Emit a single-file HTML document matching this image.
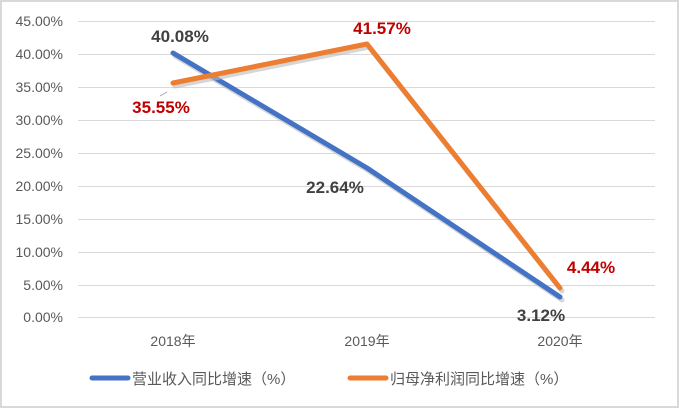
<!DOCTYPE html>
<html><head><meta charset="utf-8"><style>
body{margin:0;background:#fff}
svg{display:block}
text{font-family:"Liberation Sans","Noto Sans CJK SC",sans-serif}
</style></head><body>
<svg width="679" height="408" viewBox="0 0 679 408">
<rect x="1" y="1" width="677" height="406" fill="#fff" stroke="#d9d9d9" stroke-width="2"/>
<g stroke="#d9d9d9" stroke-width="1">
<line x1="78" x2="655" y1="21.5" y2="21.5"/><line x1="78" x2="655" y1="54.5" y2="54.5"/>
<line x1="78" x2="655" y1="87.5" y2="87.5"/><line x1="78" x2="655" y1="120.5" y2="120.5"/>
<line x1="78" x2="655" y1="153.5" y2="153.5"/><line x1="78" x2="655" y1="186.5" y2="186.5"/>
<line x1="78" x2="655" y1="219.5" y2="219.5"/><line x1="78" x2="655" y1="252.5" y2="252.5"/>
<line x1="78" x2="655" y1="285.5" y2="285.5"/><line x1="78" x2="655" y1="317.5" y2="317.5"/>
</g>
<g font-size="14" fill="#595959" text-anchor="end">
<text x="63" y="26">45.00%</text><text x="63" y="59">40.00%</text><text x="63" y="92">35.00%</text>
<text x="63" y="125">30.00%</text><text x="63" y="158">25.00%</text><text x="63" y="191">20.00%</text>
<text x="63" y="224">15.00%</text><text x="63" y="257">10.00%</text><text x="63" y="290">5.00%</text>
<text x="63" y="322">0.00%</text>
</g>
<g font-size="14" fill="#595959" text-anchor="middle">
<text x="173" y="346">2018年</text><text x="367" y="346">2019年</text><text x="560" y="346">2020年</text>
</g>
<line x1="167" y1="92" x2="160" y2="96" stroke="#a6a6a6" stroke-width="1"/>
<polyline points="175,56 369,171 562,300" fill="none" stroke="#bbb" stroke-width="5" stroke-linecap="round" opacity="0.6"/>
<polyline points="173,53 367,168 560,297" fill="none" stroke="#4472c4" stroke-width="5" stroke-linecap="round" stroke-linejoin="round"/>
<polyline points="175,86 369,47 562,291" fill="none" stroke="#bbb" stroke-width="5" stroke-linecap="round" opacity="0.6"/>
<polyline points="173,83 367,44 560,288" fill="none" stroke="#ed7d31" stroke-width="5" stroke-linecap="round" stroke-linejoin="round"/>
<g font-size="17" font-weight="bold">
<text x="180" y="42" fill="#404040" text-anchor="middle">40.08%</text>
<text x="161" y="113" fill="#c00000" text-anchor="middle">35.55%</text>
<text x="382" y="34" fill="#c00000" text-anchor="middle">41.57%</text>
<text x="335" y="193" fill="#404040" text-anchor="middle">22.64%</text>
<text x="591" y="273" fill="#c00000" text-anchor="middle">4.44%</text>
<text x="541" y="321" fill="#404040" text-anchor="middle">3.12%</text>
</g>
<line x1="92" y1="378" x2="128" y2="378" stroke="#4472c4" stroke-width="5" stroke-linecap="round"/>
<text x="132" y="384" font-size="15" fill="#595959">营业收入同比增速（%）</text>
<line x1="350" y1="378" x2="386" y2="378" stroke="#ed7d31" stroke-width="5" stroke-linecap="round"/>
<text x="390" y="384" font-size="15" fill="#595959">归母净利润同比增速（%）</text>
</svg>
</body></html>
